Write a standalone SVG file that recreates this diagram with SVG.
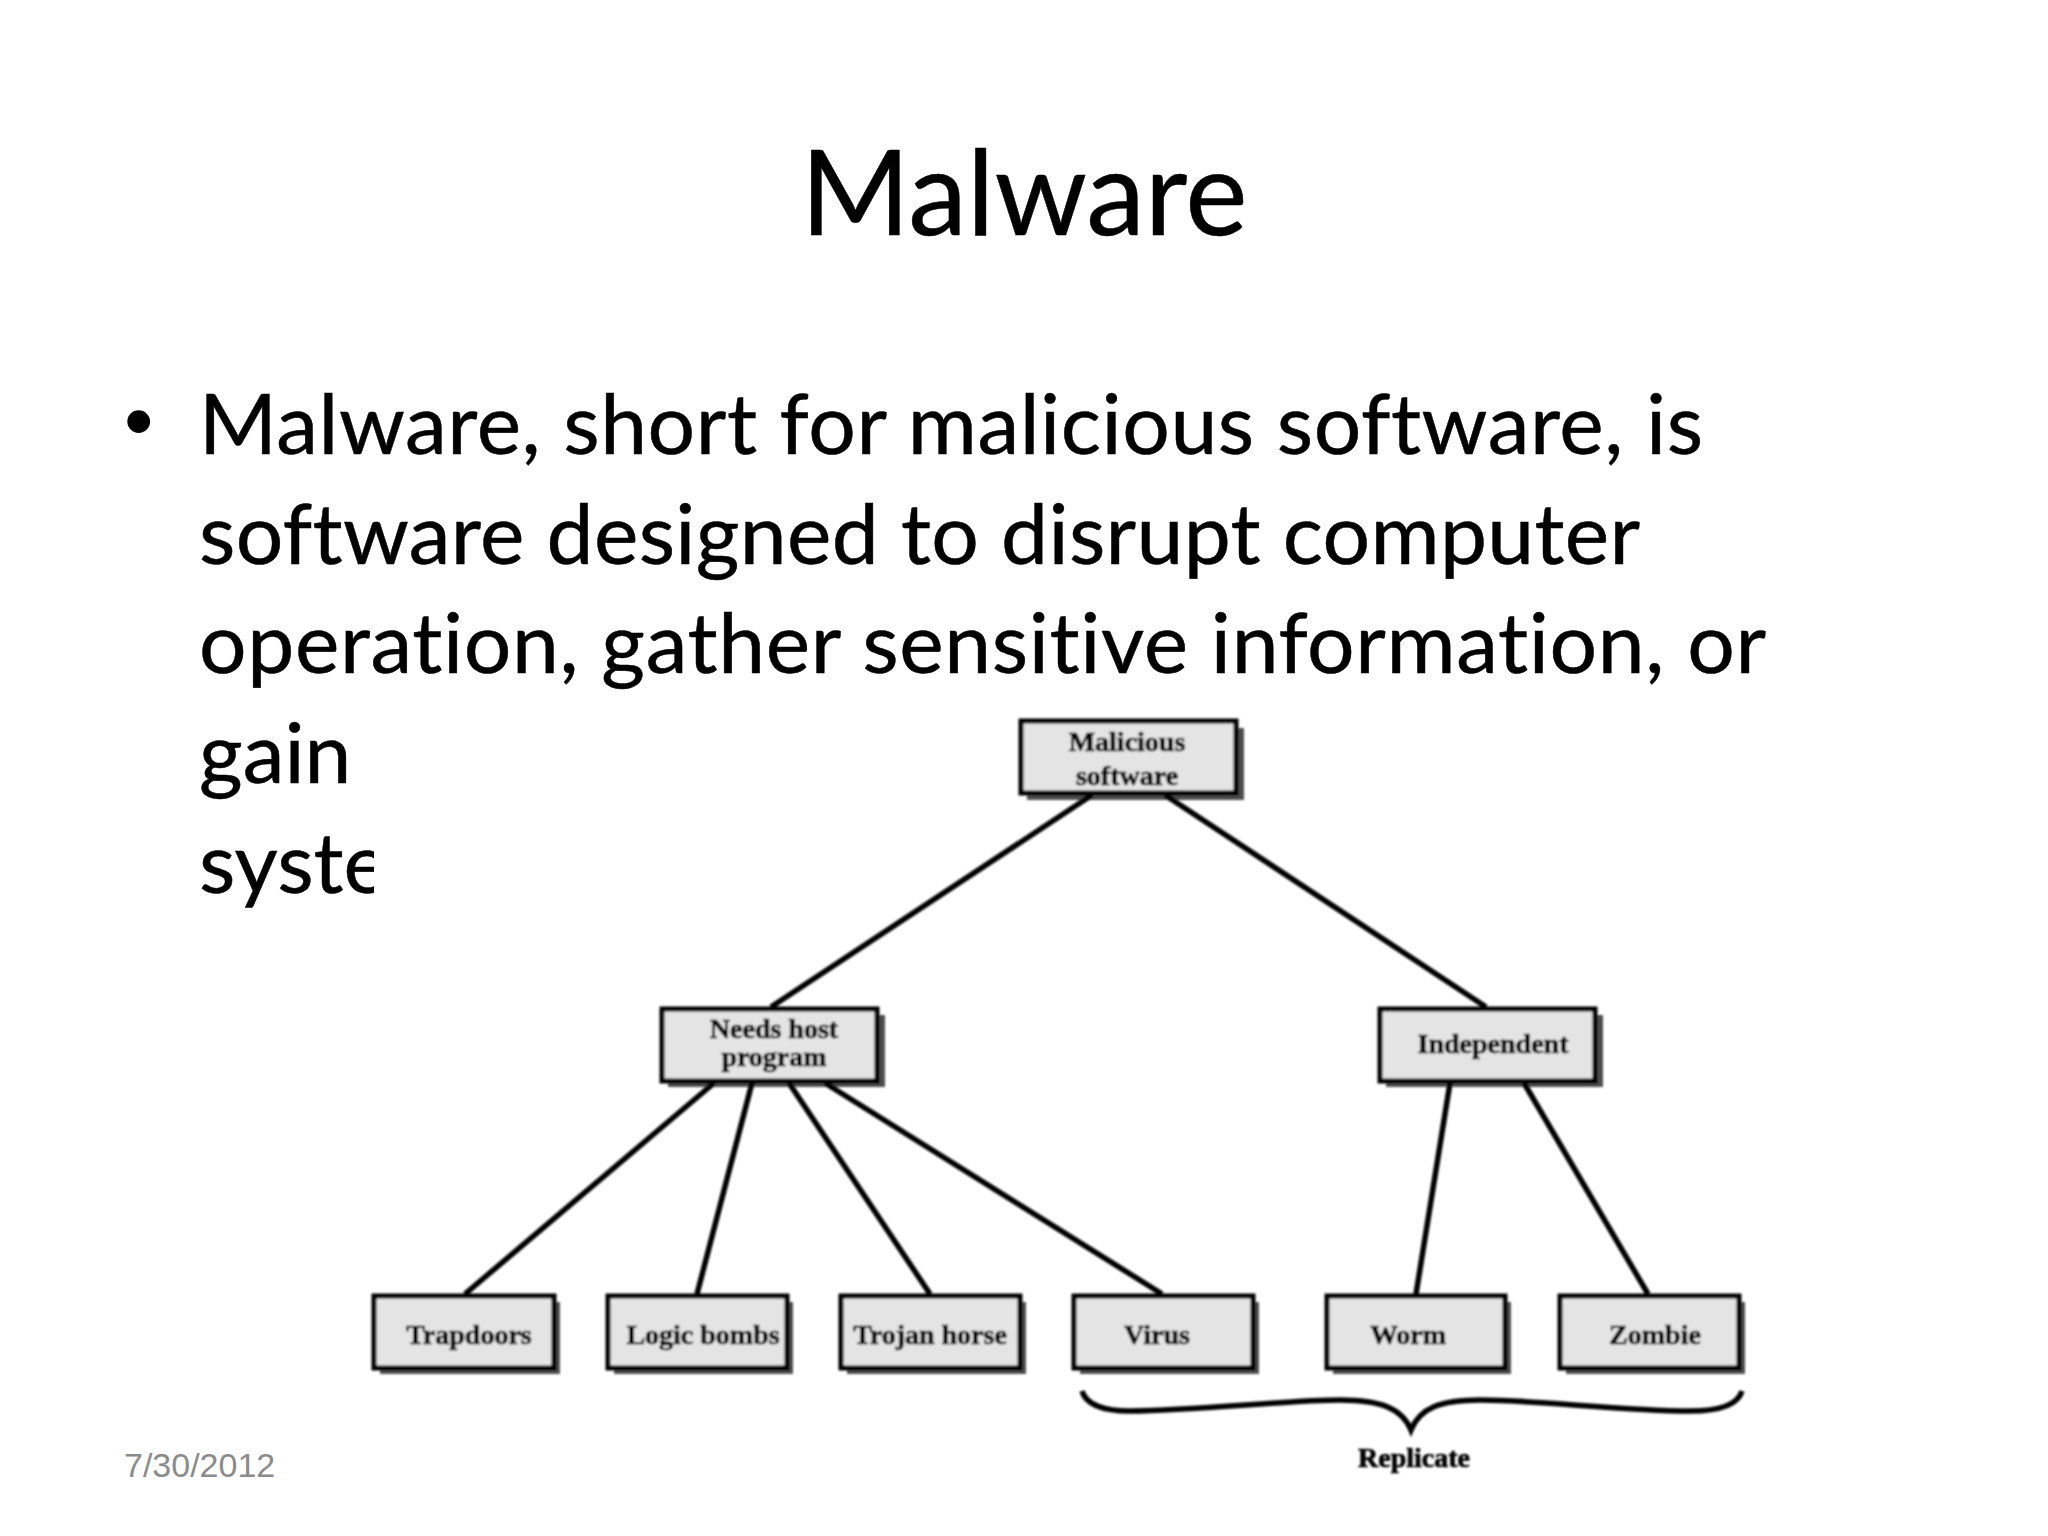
<svg xmlns="http://www.w3.org/2000/svg" width="2048" height="1536" viewBox="0 0 2048 1536">
<style>
.slide{font-family:"Lato","Open Sans",sans-serif;fill:#000;stroke:#000;stroke-width:0.5;font-variant-ligatures:none}
.body{font-size:84px}
.box{fill:#e4e4e4;stroke:#000;stroke-width:5}
.shadow{fill:#4d4d4d}
.lbl{font-family:"Liberation Serif",serif;font-weight:bold;font-size:28px;fill:#000;stroke:#000;stroke-width:0.7;text-anchor:middle}
.conn{stroke:#000;stroke-width:5.5;fill:none;stroke-linecap:butt}
</style>
<defs>
<filter id="soft" x="-2%" y="-2%" width="104%" height="104%"><feGaussianBlur stdDeviation="0.9"/></filter>
</defs>
<rect width="2048" height="1536" fill="#fff"/>
<text id="title" class="slide" x="1024" y="235" font-size="118" text-anchor="middle" textLength="447">Malware</text>
<g id="bullets">
<text x="124" y="449" font-family="Liberation Sans,sans-serif" font-size="84">•</text>
<text class="slide body" x="199" y="454" textLength="1504">Malware, short for malicious software, is</text>
<text class="slide body" x="199" y="564" textLength="1441">software designed to disrupt computer</text>
<text class="slide body" x="199" y="673" textLength="1567">operation, gather sensitive information, or</text>
<text class="slide body" x="199" y="783">gain</text>
<text class="slide body" x="199" y="893">syste</text>
</g>
<rect x="374" y="720" width="1400" height="770" fill="#fff"/>
<g filter="url(#soft)">
<g id="n-malicious"><rect class="shadow" x="1027" y="728" width="217" height="72"/><rect class="box" x="1021" y="721" width="215" height="72"/><text class="lbl" x="1127" y="751">Malicious</text><text class="lbl" x="1127" y="785">software</text></g>
<g id="n-needs"><rect class="shadow" x="668" y="1015" width="217" height="72"/><rect class="box" x="662" y="1009" width="215" height="72"/><text class="lbl" x="774" y="1038">Needs host</text><text class="lbl" x="774" y="1066">program</text></g>
<g id="n-independent"><rect class="shadow" x="1386" y="1015" width="217" height="72"/><rect class="box" x="1380" y="1009" width="215" height="72"/><text class="lbl" x="1493" y="1053">Independent</text></g>
<g id="n-trapdoors"><rect class="shadow" x="380" y="1302" width="180" height="72"/><rect class="box" x="374" y="1296" width="180" height="72"/><text class="lbl" x="469" y="1344">Trapdoors</text></g>
<g id="n-logic"><rect class="shadow" x="614" y="1302" width="179" height="72"/><rect class="box" x="608" y="1296" width="179" height="72"/><text class="lbl" x="703" y="1344">Logic bombs</text></g>
<g id="n-trojan"><rect class="shadow" x="847" y="1302" width="179" height="72"/><rect class="box" x="841" y="1296" width="179" height="72"/><text class="lbl" x="930" y="1344">Trojan horse</text></g>
<g id="n-virus"><rect class="shadow" x="1080" y="1302" width="179" height="72"/><rect class="box" x="1074" y="1296" width="179" height="72"/><text class="lbl" x="1157" y="1344">Virus</text></g>
<g id="n-worm"><rect class="shadow" x="1333" y="1302" width="178" height="72"/><rect class="box" x="1327" y="1296" width="178" height="72"/><text class="lbl" x="1408" y="1344">Worm</text></g>
<g id="n-zombie"><rect class="shadow" x="1566" y="1302" width="179" height="72"/><rect class="box" x="1560" y="1296" width="179" height="72"/><text class="lbl" x="1655" y="1344">Zombie</text></g>
<g id="connectors">
<line class="conn" x1="1092" y1="795" x2="771" y2="1007"/>
<line class="conn" x1="1165" y1="795" x2="1486" y2="1007"/>
<line class="conn" x1="714" y1="1083" x2="465" y2="1294"/>
<line class="conn" x1="752" y1="1083" x2="697" y2="1294"/>
<line class="conn" x1="789" y1="1083" x2="930" y2="1294"/>
<line class="conn" x1="825" y1="1083" x2="1162" y2="1294"/>
<line class="conn" x1="1450" y1="1083" x2="1416" y2="1294"/>
<line class="conn" x1="1524" y1="1083" x2="1648" y2="1294"/>
<path class="conn" stroke-width="4" d="M1082 1391C1086 1405 1105 1411 1130 1411C1200 1410 1290 1400 1340 1400C1380 1400 1402 1408 1411 1430C1420 1408 1440 1400 1480 1400C1540 1400 1620 1411 1690 1411C1720 1411 1738 1405 1742 1391"/>
</g>
<text id="replicate" class="lbl" x="1414" y="1467">Replicate</text>
</g>
<text id="date" x="124" y="1477" font-family="Liberation Sans,sans-serif" font-size="34" fill="#8b8b8b">7/30/2012</text>
</svg>
